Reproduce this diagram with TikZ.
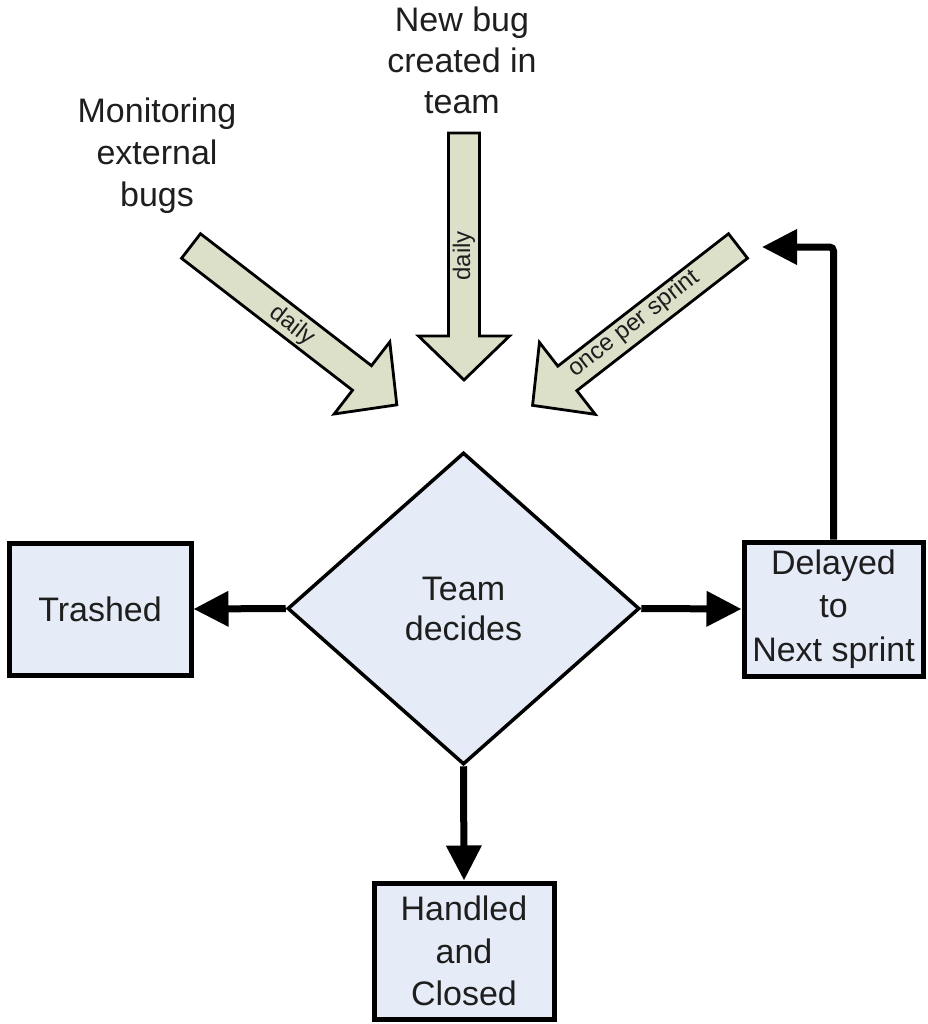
\documentclass[tikz,border=0pt]{standalone}
\usepackage{fontspec}
\setmainfont{Liberation Sans}
\usetikzlibrary{arrows.meta,shapes.geometric}

\definecolor{boxblue}{RGB}{229,235,247}
\definecolor{sage}{RGB}{220,224,200}
\definecolor{ink}{RGB}{30,30,30}

\tikzset{
  bigfont/.style={font=\fontsize{34}{42}\selectfont, text=ink},
  smallfont/.style={font=\fontsize{24}{28}\selectfont, text=ink},
  statebox/.style={draw=black, line width=5pt, fill=boxblue, inner sep=0pt,
    align=center, bigfont},
  decision/.style={diamond, draw=black, line width=3.5pt, fill=boxblue,
    inner sep=0pt, align=center, bigfont},
  flow/.style={line width=7pt, draw=black, -{Triangle[length=35pt,width=34pt]}},
  feedfill/.style={draw=black, line width=2.8pt, fill=sage, line join=miter},
  % hollow block arrow pointing along +x, tail at the origin, length #1
  pics/feedarrow/.style={code={
    \draw[feedfill] (0,-15.5) -- ({#1-44},-15.5) -- ({#1-44},-45.5) -- (#1,0)
      -- ({#1-44},45.5) -- ({#1-44},15.5) -- (0,15.5) -- cycle;
  }},
}

\begin{document}
\begin{tikzpicture}[x=1pt,y=-1pt]
  \useasboundingbox (0,0) rectangle (927,1024);

  % incoming feeds
  \node[bigfont, align=center] (ext) at (157,156) {Monitoring\\external\\bugs};
  \node[bigfont, align=center, font=\fontsize{34}{41}\selectfont] (new) at (462,60) {New bug\\created in\\team};

  \pic at (191,246) [rotate=-37.66] {feedarrow=260};
  \pic at (464,133) [rotate=-90] {feedarrow=247};
  \pic at (738,246) [rotate=217.8] {feedarrow=260};

  \node[smallfont, rotate=-37.7] (lblext) at (292,326) {daily};
  \node[smallfont, rotate=90] (lblnew) at (464,256) {daily};
  \node[smallfont, rotate=38] (lblsprint) at (634,324) {once per sprint};

  % decision and outcomes
  \node[decision, minimum width=352pt, minimum height=312pt,
        font=\fontsize{34}{40}\selectfont] (dec) at (463.5,608.5) {Team\\decides};
  \node[statebox, minimum width=182pt, minimum height=132pt] (trash) at (100,609) {Trashed};
  \node[statebox, minimum width=179pt, minimum height=134pt,
        font=\fontsize{34}{43.5}\selectfont] (delay) at (833.5,609) {Delayed\\to\\Next sprint};
  \node[statebox, minimum width=180pt, minimum height=136pt,
        font=\fontsize{34}{42.5}\selectfont] (done) at (464,951) {Handled\\and\\Closed};

  \coordinate (back) at (762,247);

  \draw[flow] (dec.west) -- (trash.east);
  \draw[flow] (dec.east) -- (delay.west);
  \draw[flow] (dec.south) -- (done.north);
  \draw[flow, rounded corners=4pt] (delay.north) |- (back);
\end{tikzpicture}
\end{document}
